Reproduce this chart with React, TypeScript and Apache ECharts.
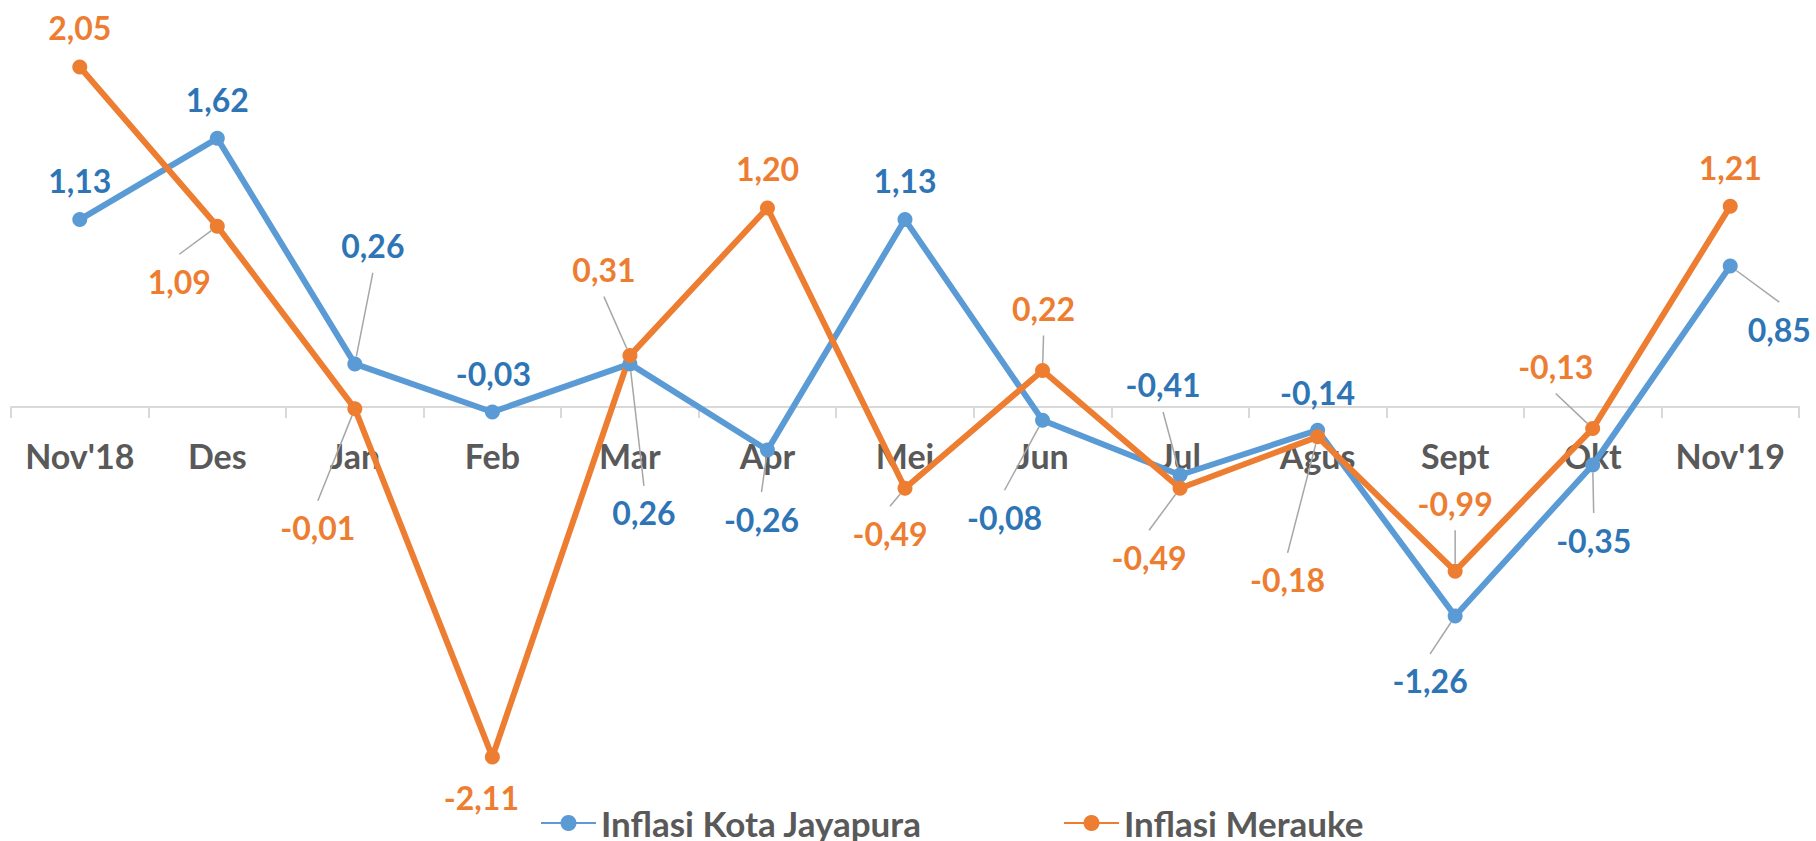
import React, { useEffect, useRef } from 'react';
import * as echarts from 'echarts';

// ---- data ----
const categories = ["Nov'18", 'Des', 'Jan', 'Feb', 'Mar', 'Apr', 'Mei', 'Jun', 'Jul', 'Agus', 'Sept', 'Okt', "Nov'19"];
const seriesNames = ['Inflasi Kota Jayapura', 'Inflasi Merauke'];
const jayapura = [1.13, 1.62, 0.26, -0.03, 0.26, -0.26, 1.13, -0.08, -0.41, -0.14, -1.26, -0.35, 0.85];
const merauke = [2.05, 1.09, -0.01, -2.11, 0.31, 1.2, -0.49, 0.22, -0.49, -0.18, -0.99, -0.13, 1.21];

// ---- label placement (offset of label centre from its point, px) ----
const jayapuraLabelOffsets = [
  [0, -39], [0, -39], [18, -118], [1, -38], [14, 149], [-6, 69], [0, -39],
  [-38, 97], [-17, -90], [0, -38], [-25, 65], [1, 75], [49, 63],
];
const jayapuraLeader = [false, false, true, false, true, true, false, true, true, false, true, true, true];
const meraukeLabelOffsets = [
  [0, -40], [-38, 55], [-37, 119], [-11, 41], [-26, -86], [0, -40], [-15, 45],
  [1, -62], [-31, 69], [-30, 143], [0, -68], [-37, -62], [0, -39],
];
const meraukeLeader = [false, true, true, false, true, false, true, true, true, true, true, true, false];

const BLUE = '#5B9BD5';
const BLUE_TEXT = '#2E75B6';
const ORANGE = '#ED7D31';
const GREY_TEXT = '#595959';
const AXIS_GREY = '#D9D9D9';
const FONT = 'Lato, "Open Sans", sans-serif';

const fmt = (v: number) => v.toFixed(2).replace('.', ',');

const makeLayout = (offsets: number[][]) => (p: any) => {
  const [dx, dy] = offsets[p.dataIndex];
  return {
    x: p.rect.x + p.rect.width / 2 + dx,
    y: p.rect.y + p.rect.height / 2 + dy,
    align: 'center',
    verticalAlign: 'middle',
  };
};

const makeSeries = (name: string, values: number[], leader: boolean[], offsets: number[][], color: string, textColor: string) => ({
  name,
  type: 'line',
  xAxisIndex: 0,
  yAxisIndex: 0,
  data: values.map((v, i) => ({ value: v, labelLine: { show: leader[i] } })),
  symbol: 'circle',
  symbolSize: 15,
  showSymbol: true,
  showAllSymbol: true,
  lineStyle: { color, width: 6 },
  itemStyle: { color },
  label: {
    show: true,
    position: 'top',
    formatter: (p: any) => fmt(p.value),
    color: textColor,
    fontFamily: FONT,
    fontWeight: 'bold',
    fontSize: 32,
    lineHeight: 32,
    padding: [11, 4, 11, 4],
  },
  labelLine: {
    show: true,
    length2: 0,
    showAbove: true,
    lineStyle: { color: '#A6A6A6', width: 1.5 },
  },
  labelLayout: makeLayout(offsets),
  emphasis: { disabled: true },
});

const legendText = { color: GREY_TEXT, fontFamily: FONT, fontWeight: 'bold', fontSize: 35, lineHeight: 36 };

export default function App() {
  const ref = useRef<HTMLDivElement>(null);
  useEffect(() => {
    if (!ref.current) return;
    const chart = echarts.init(ref.current, null, { renderer: 'svg' });
    chart.setOption({
      animation: false,
      backgroundColor: '#ffffff',
      grid: [
        { left: 11, right: 17, top: 9, bottom: 36, containLabel: false },
        { left: 11, right: 17, top: 0, height: 407, containLabel: false },
      ],
      legend: [
        {
          data: [seriesNames[0]], left: 540, top: 805, padding: 0, itemWidth: 55, itemHeight: 20,
          textStyle: legendText,
        },
        {
          data: [seriesNames[1]], left: 1063, top: 805, padding: 0, itemWidth: 55, itemHeight: 20,
          textStyle: legendText,
        },
      ],
      xAxis: [
        {
          type: 'category',
          gridIndex: 0,
          data: categories,
          boundaryGap: true,
          show: false,
        },
        {
          type: 'category',
          gridIndex: 1,
          data: categories,
          boundaryGap: true,
          position: 'bottom',
          axisLine: { show: true, onZero: false, lineStyle: { color: AXIS_GREY, width: 2 } },
          axisTick: { show: true, length: 11, interval: 0, lineStyle: { color: AXIS_GREY, width: 2 } },
          axisLabel: {
            interval: 0,
            hideOverlap: false,
            color: GREY_TEXT, fontFamily: FONT, fontWeight: 'bold', fontSize: 34, lineHeight: 36, margin: 30,
          },
          splitLine: { show: false },
        },
      ],
      yAxis: [
        { type: 'value', gridIndex: 0, min: -2.4, max: 2.4, show: false },
        { type: 'value', gridIndex: 1, min: 0, max: 1, show: false },
      ],
      series: [
        makeSeries(seriesNames[0], jayapura, jayapuraLeader, jayapuraLabelOffsets, BLUE, BLUE_TEXT),
        makeSeries(seriesNames[1], merauke, meraukeLeader, meraukeLabelOffsets, ORANGE, ORANGE),
      ],
    });
    return () => chart.dispose();
  }, []);
  return (
    <div
      ref={ref}
      style={{ position: 'fixed', left: 0, top: 0, width: 1816, height: 841 }}
    />
  );
}
